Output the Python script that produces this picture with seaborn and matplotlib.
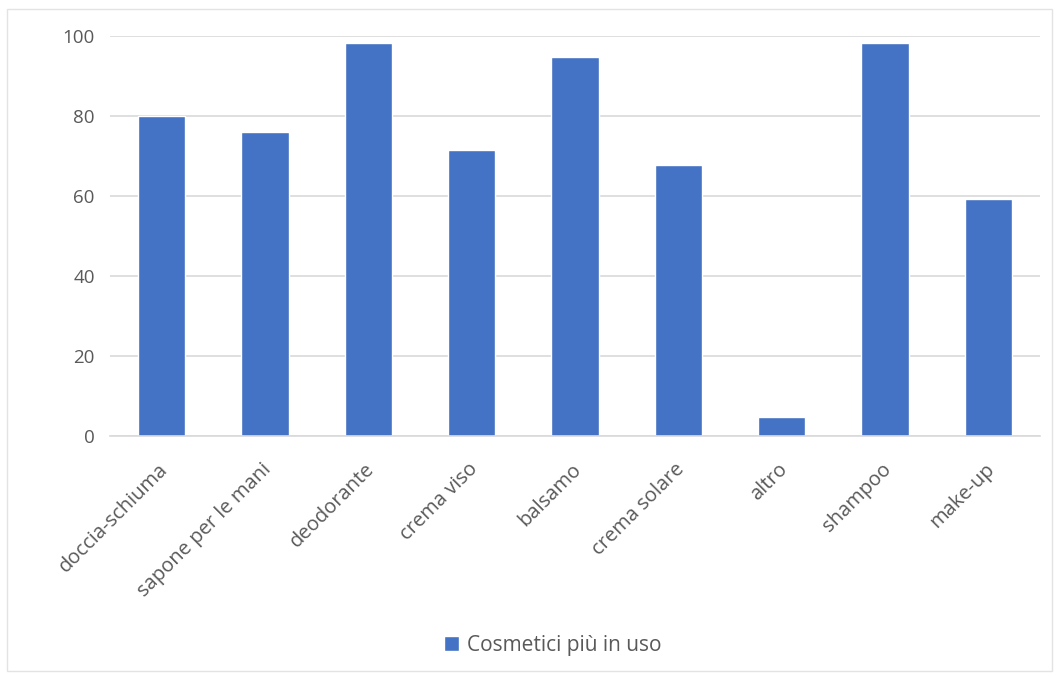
import matplotlib
matplotlib.use("Agg")
import matplotlib.pyplot as plt
from matplotlib.patches import Rectangle
from matplotlib.transforms import ScaledTranslation
import seaborn as sns
import pandas as pd

# Data
categorie = ["doccia-schiuma", "sapone per le mani", "deodorante", "crema viso",
             "balsamo", "crema solare", "altro", "shampoo", "make-up"]
valori = [80.0, 76.0, 98.3, 71.4, 94.8, 67.8, 4.6, 98.3, 59.2]
serie = "Cosmetici più in uso"
y_ticks = [0, 20, 40, 60, 80, 100]

df = pd.DataFrame({"categoria": categorie, "valore": valori, "serie": serie})

sns.set_theme(style="white")
plt.rcParams["font.family"] = ["Open Sans", "DejaVu Sans"]

W, H = 1060, 677
fig = plt.figure(figsize=(W / 100, H / 100), dpi=100)
fig.patch.set_facecolor("white")
ax = fig.add_axes([110 / W, 1 - 435.7 / H, (1040 - 110) / W, (435.7 - 36) / H])

sns.barplot(data=df, x="categoria", y="valore", hue="serie",
            palette=["#4472C4"], width=0.455, dodge=False, ax=ax,
            saturation=1)

ax.set_xlim(-0.5, len(categorie) - 0.5)
ax.set_ylim(0, 100)
ax.set_yticks(y_ticks)
ax.set_xlabel("")
ax.set_ylabel("")

grid_col = "#D9D9D9"
text_col = "#595959"
ax.yaxis.grid(True, color=grid_col, linewidth=1.2)
ax.set_axisbelow(True)
for side in ["top", "right", "left"]:
    ax.spines[side].set_visible(False)
ax.spines["bottom"].set_color(grid_col)
ax.spines["bottom"].set_linewidth(1.2)

ax.tick_params(axis="y", length=0, pad=11, labelsize=13.5, labelcolor=text_col)
ax.tick_params(axis="x", which="major", length=0, pad=17, labelsize=14.5,
               labelcolor=text_col)
ax.set_xticks([i - 0.5 for i in range(len(categorie) + 1)], minor=True)
ax.tick_params(axis="x", which="minor", length=6, width=1.2, color=grid_col,
               direction="out")
shift = ScaledTranslation(-4 / 100, 0, fig.dpi_scale_trans)
for lab in ax.get_xticklabels():
    lab.set_rotation(45)
    lab.set_ha("right")
    lab.set_rotation_mode("anchor")
    lab.set_transform(lab.get_transform() + shift)

# Legend below the plot
handles, labels = ax.get_legend_handles_labels()
if ax.get_legend() is not None:
    ax.get_legend().remove()
fig.legend(handles, labels, loc="center", bbox_to_anchor=(553 / W, 1 - 645 / H),
           frameon=False, fontsize=15, labelcolor=text_col,
           handlelength=0.7, handleheight=0.7, handletextpad=0.4)

# Chart-area frame
fig.patches.append(Rectangle((7 / W, 1 - 671 / H), (1052 - 7) / W, (671 - 9) / H,
                             transform=fig.transFigure, fill=False,
                             edgecolor="#E3E3E3", linewidth=1))

fig.savefig("out.png", dpi=100, facecolor="white")
